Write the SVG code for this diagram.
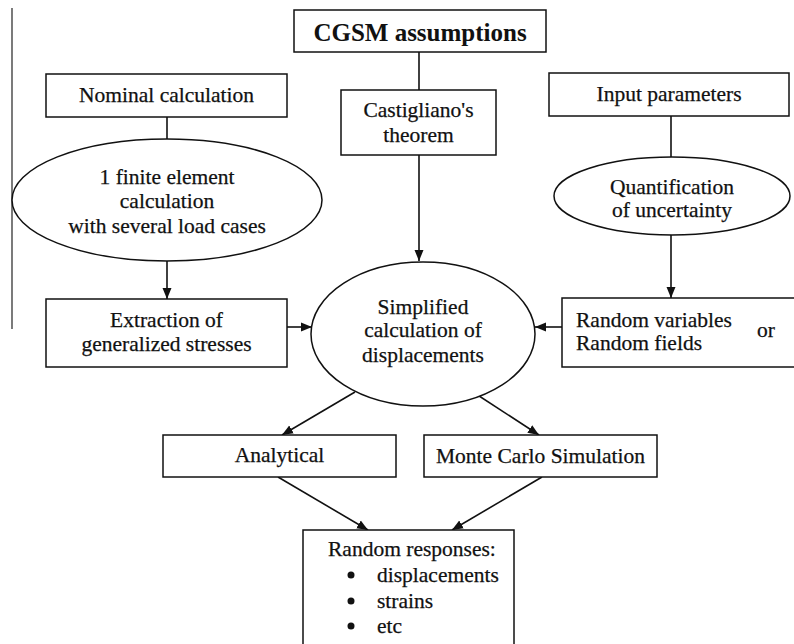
<svg xmlns="http://www.w3.org/2000/svg" width="794" height="644" viewBox="0 0 794 644">
<style>
.box{fill:#fff;stroke:#111;stroke-width:1.5}
.t{font-family:"Liberation Serif","Times New Roman",serif;font-size:21.5px;fill:#111;stroke:#111;stroke-width:0.25;text-anchor:middle}
.ts{font-family:"Liberation Serif","Times New Roman",serif;font-size:21.5px;fill:#111;stroke:#111;stroke-width:0.25}
.tb{font-family:"Liberation Serif","Times New Roman",serif;font-size:25px;font-weight:bold;fill:#111;text-anchor:middle}
.c{stroke:#111;stroke-width:1.6;fill:none}
.a{marker-end:url(#arr)}
</style>
<defs>
<marker id="arr" markerUnits="userSpaceOnUse" markerWidth="12" markerHeight="10" refX="11" refY="5" orient="auto">
<path d="M0,0.5 L11,5 L0,9.5 z" fill="#111"/>
</marker>
</defs>
<rect width="794" height="644" fill="#fff"/>
<line x1="12" y1="8" x2="12" y2="329" stroke="#333" stroke-width="1.3"/>
<g id="connectors">
<line class="c" x1="419" y1="52" x2="419" y2="90"/>
<line class="c" x1="167" y1="117" x2="167" y2="139"/>
<line class="c a" x1="167" y1="261" x2="167" y2="299"/>
<line class="c a" x1="419" y1="155" x2="419" y2="261"/>
<line class="c a" x1="287" y1="327" x2="312" y2="327"/>
<line class="c" x1="671" y1="116" x2="671" y2="157"/>
<line class="c a" x1="671" y1="235" x2="671" y2="298"/>
<line class="c a" x1="562" y1="327" x2="535" y2="327"/>
<line class="c a" x1="355" y1="392" x2="282" y2="435"/>
<line class="c a" x1="473" y1="392" x2="539" y2="435"/>
<line class="c a" x1="278" y1="477" x2="368" y2="530"/>
<line class="c a" x1="542" y1="477" x2="452" y2="530"/>
</g>
<g id="cgsm">
<rect class="box" x="294" y="10" width="252" height="42"/>
<text class="tb" x="420" y="41">CGSM assumptions</text>
</g>
<g id="nominal">
<rect class="box" x="46" y="74" width="241" height="43"/>
<text class="t" x="166.5" y="102">Nominal calculation</text>
</g>
<g id="fe">
<ellipse class="box" cx="167" cy="200" rx="155" ry="61"/>
<text class="t" x="167" y="184">1 finite element</text>
<text class="t" x="167" y="208">calculation</text>
<text class="t" x="167" y="233">with several load cases</text>
</g>
<g id="extraction">
<rect class="box" x="46" y="299" width="241" height="68"/>
<text class="t" x="166.5" y="327">Extraction of</text>
<text class="t" x="166.5" y="351">generalized stresses</text>
</g>
<g id="castigliano">
<rect class="box" x="341" y="90" width="155" height="65"/>
<text class="t" x="418.5" y="117">Castigliano's</text>
<text class="t" x="418.5" y="142">theorem</text>
</g>
<g id="input">
<rect class="box" x="549" y="73" width="240" height="43"/>
<text class="t" x="669" y="101">Input parameters</text>
</g>
<g id="quant">
<ellipse class="box" cx="672" cy="196" rx="118" ry="39"/>
<text class="t" x="672" y="194">Quantification</text>
<text class="t" x="672" y="217">of uncertainty</text>
</g>
<g id="simplified">
<ellipse class="box" cx="423" cy="334" rx="112" ry="72"/>
<text class="t" x="423" y="314">Simplified</text>
<text class="t" x="423" y="337">calculation of</text>
<text class="t" x="423" y="362">displacements</text>
</g>
<g id="random">
<rect class="box" x="562" y="298" width="240" height="69"/>
<text class="ts" x="576" y="327">Random variables</text>
<text class="ts" x="576" y="350">Random fields</text>
<text class="ts" x="757" y="337">or</text>
</g>
<g id="analytical">
<rect class="box" x="163" y="435" width="233" height="42"/>
<text class="t" x="279.5" y="462">Analytical</text>
</g>
<g id="montecarlo">
<rect class="box" x="424" y="435" width="233" height="42"/>
<text class="t" x="540.5" y="463">Monte Carlo Simulation</text>
</g>
<g id="responses">
<rect class="box" x="303" y="530" width="211" height="130"/>
<text class="ts" x="328" y="556">Random responses:</text>
<circle cx="351" cy="575" r="3.5" fill="#111"/>
<circle cx="351" cy="601" r="3.5" fill="#111"/>
<circle cx="351" cy="626" r="3.5" fill="#111"/>
<text class="ts" x="377" y="582">displacements</text>
<text class="ts" x="377" y="608">strains</text>
<text class="ts" x="377" y="633">etc</text>
</g>
</svg>
